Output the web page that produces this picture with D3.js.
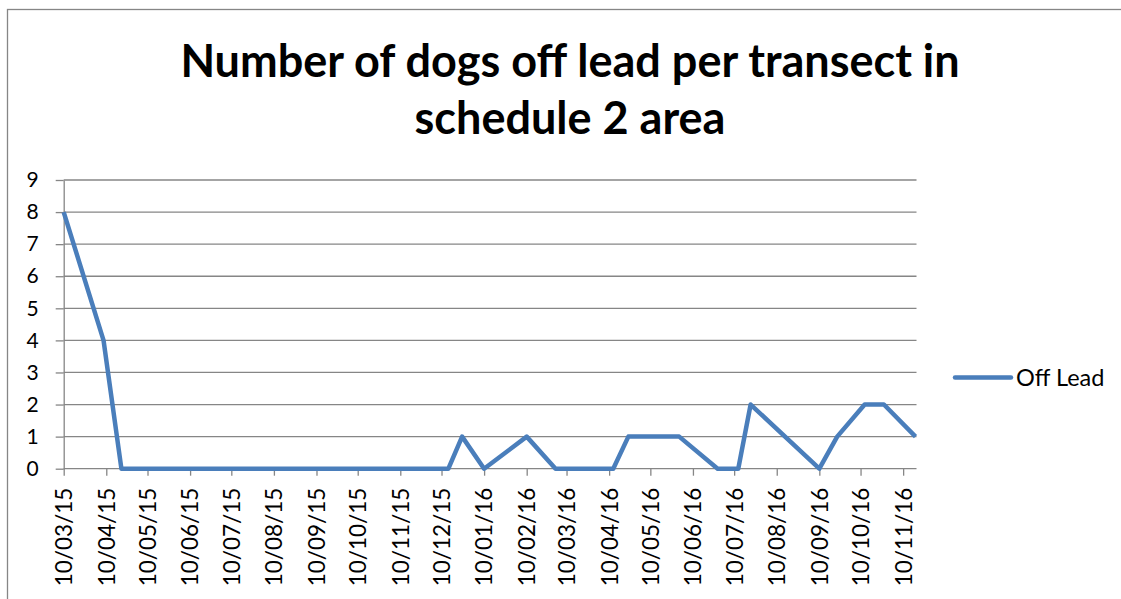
<!DOCTYPE html>
<html>
<head>
<meta charset="utf-8">
<script src="https://cdn.jsdelivr.net/npm/d3@7"></script>
<style>
  body { margin: 0; background: #fff; }
  text { font-family: Lato, "Noto Sans", sans-serif; fill: #000; }
</style>
</head>
<body>
<div id="chart"></div>
<script>
// survey dates and counts
const surveyDates = ["2015-03-10", "2015-04-08", "2015-04-21", "2015-12-15", "2015-12-25",
    "2016-01-10", "2016-02-10", "2016-03-02", "2016-04-13", "2016-04-24", "2016-05-31",
    "2016-06-28", "2016-07-13", "2016-07-22", "2016-09-10", "2016-09-23", "2016-10-13",
    "2016-10-27", "2016-11-19"];
const offLead = [8, 4, 0, 0, 1, 0, 1, 0, 0, 1, 1, 0, 0, 2, 0, 1, 2, 2, 1];

// axis ticks, one per month on the 10th
const tickDates = ["2015-03-10", "2015-04-10", "2015-05-10", "2015-06-10", "2015-07-10",
    "2015-08-10", "2015-09-10", "2015-10-10", "2015-11-10", "2015-12-10", "2016-01-10",
    "2016-02-10", "2016-03-10", "2016-04-10", "2016-05-10", "2016-06-10", "2016-07-10",
    "2016-08-10", "2016-09-10", "2016-10-10", "2016-11-10"];
const yTicks = [0, 1, 2, 3, 4, 5, 6, 7, 8, 9];
const seriesName = "Off Lead";
const titleLines = ["Number of dogs off lead per transect in", "schedule 2 area"];

const parse = d3.utcParse("%Y-%m-%d");
const fmt = d3.utcFormat("%d/%m/%y");
const data = surveyDates.map((d, i) => ({date: parse(d), value: offLead[i]}));

const W = 1121, H = 599;
const plot = {left: 63.7, right: 915.5, top: 180, bottom: 468.7};
const grey = "#868686";
const blue = "#4a7ebb";

const svg = d3.select("#chart").append("svg")
    .attr("width", W)
    .attr("height", H);

// outer chart border (runs off the right and bottom)
svg.append("rect")
    .attr("x", 7.5).attr("y", 9.5)
    .attr("width", W + 20).attr("height", H + 20)
    .attr("fill", "none")
    .attr("stroke", grey)
    .attr("stroke-width", 1.3);

const x = d3.scaleUtc()
    .domain(d3.extent(data, d => d.date))
    .range([plot.left, plot.right]);

const y = d3.scaleLinear()
    .domain([0, 9])
    .range([plot.bottom, plot.top]);

// title
svg.append("g").selectAll("text")
    .data(titleLines)
    .join("text")
    .attr("x", 570)
    .attr("y", (d, i) => 77 + i * 57)
    .attr("text-anchor", "middle")
    .style("font-size", "45px")
    .style("font-weight", "bold")
    .text(d => d);

// horizontal gridlines
svg.append("g")
    .selectAll("line")
    .data(yTicks.filter(v => v > 0))
    .join("line")
    .attr("x1", plot.left).attr("x2", plot.right + 1)
    .attr("y1", d => y(d)).attr("y2", d => y(d))
    .attr("stroke", grey)
    .attr("stroke-width", 1.3);

// y axis
const yAxis = svg.append("g")
    .attr("transform", `translate(${plot.left}, 0)`)
    .call(d3.axisLeft(y).tickValues(yTicks).tickSize(8).tickPadding(17).tickSizeOuter(0));
yAxis.select(".domain").attr("stroke", grey).attr("stroke-width", 1.3);
yAxis.selectAll(".tick line").attr("stroke", grey).attr("stroke-width", 1.3);
yAxis.selectAll(".tick text")
    .style("font-size", "21px")
    .attr("fill", "#000")
    .attr("font-family", null);

// x axis with rotated date labels
const xAxis = svg.append("g")
    .attr("transform", `translate(0, ${plot.bottom})`)
    .call(d3.axisBottom(x).tickValues(tickDates.map(parse)).tickFormat(fmt).tickSize(7).tickSizeOuter(0));
xAxis.select(".domain")
    .attr("d", `M${plot.left},0H${plot.right + 1}`)
    .attr("stroke", grey).attr("stroke-width", 1.3);
xAxis.selectAll(".tick line").attr("stroke", grey).attr("stroke-width", 1.3);
xAxis.selectAll(".tick text")
    .style("font-size", "22.5px")
    .attr("fill", "#000")
    .attr("font-family", null)
    .attr("text-anchor", "end")
    .attr("transform", "rotate(-90)")
    .attr("x", -19)
    .attr("y", 0)
    .attr("dy", "0.35em");

// the series line
svg.append("path")
    .datum(data)
    .attr("fill", "none")
    .attr("stroke", blue)
    .attr("stroke-width", 4.5)
    .attr("stroke-linejoin", "round")
    .attr("d", d3.line().x(d => x(d.date)).y(d => y(d.value)));

// legend
const legend = svg.append("g").attr("transform", "translate(955, 377.5)");
legend.append("line")
    .attr("x1", 0).attr("x2", 56)
    .attr("stroke", blue)
    .attr("stroke-width", 4.5)
    .attr("stroke-linecap", "round");
legend.append("text")
    .attr("x", 61)
    .attr("dy", "0.35em")
    .style("font-size", "23.5px")
    .text(seriesName);
</script>
</body>
</html>
